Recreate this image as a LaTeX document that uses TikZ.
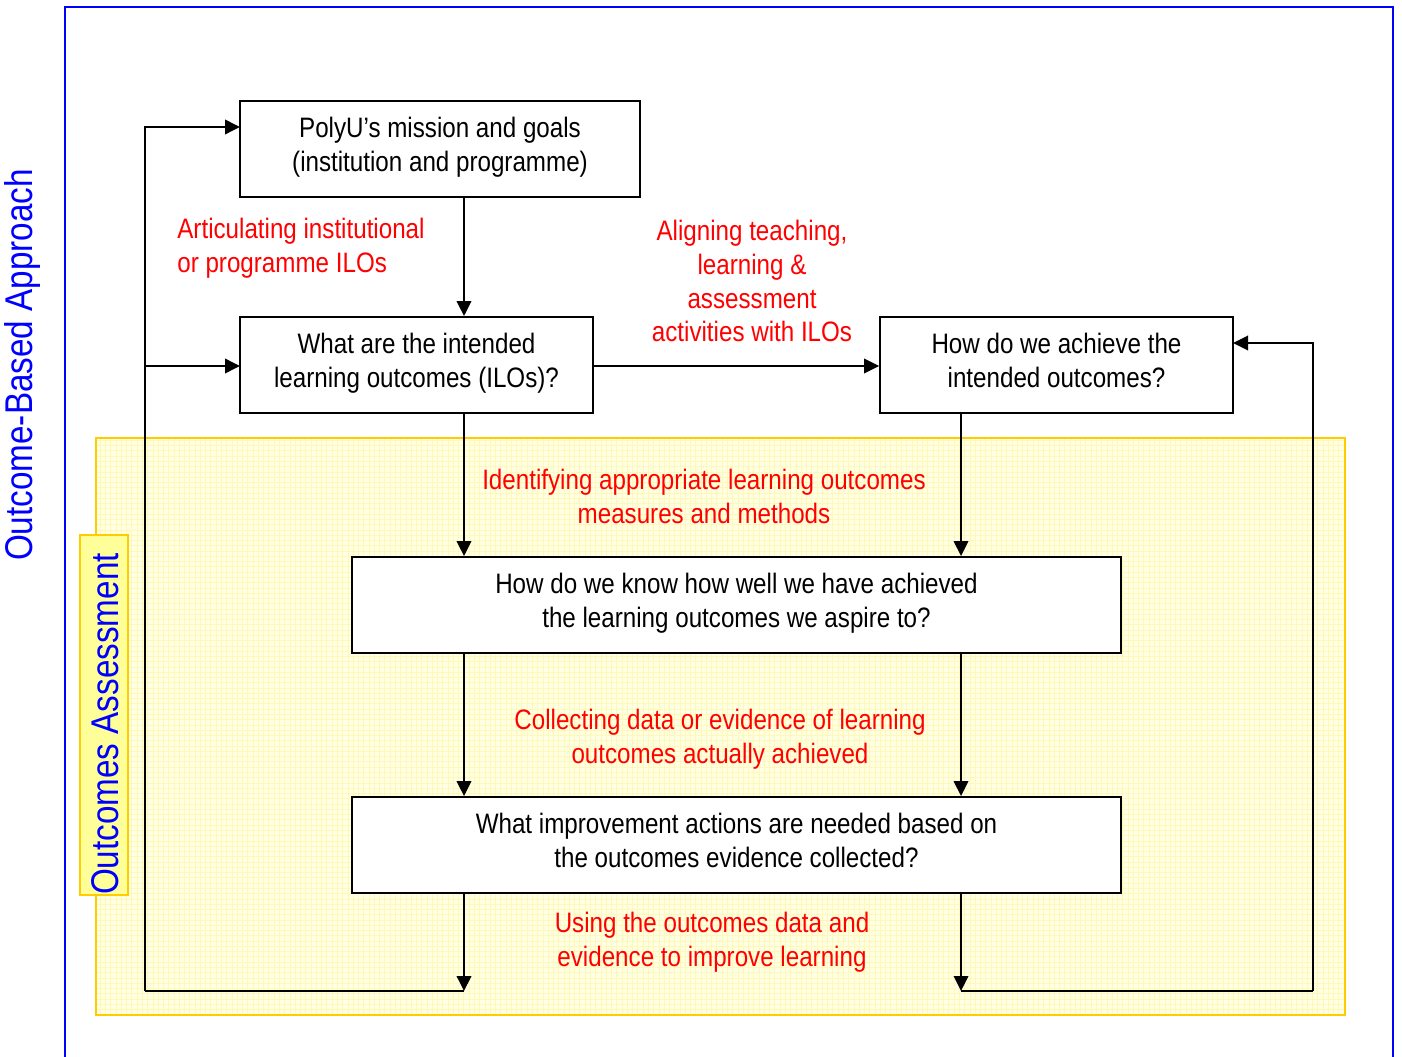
\documentclass[tikz,border=0pt]{standalone}
\usepackage{fontspec}
\setmainfont{Liberation Sans}[FakeStretch=0.86]
\usetikzlibrary{arrows.meta}
\usetikzlibrary{patterns}
\definecolor{frameblue}{RGB}{0,0,255}
\definecolor{gold}{RGB}{255,204,0}
\definecolor{paleyellow}{RGB}{255,255,228}
\definecolor{gridyellow}{RGB}{255,248,185}
\definecolor{tabyellow}{RGB}{255,255,153}
\tikzset{
	stepbox/.style={draw, line width=1.1pt, fill=white, align=center, inner sep=0pt,
		font=\fontsize{16}{19.3}\selectfont,
		execute at begin node={\rule{0pt}{15.7pt}}, execute at end node=\strut},
	redtext/.style={text=red, inner sep=0pt, font=\fontsize{16}{19.3}\selectfont},
	bluetext/.style={text=frameblue, font=\fontsize{22}{26}\selectfont},
	flow/.style={line width=1.1pt, -{Triangle[length=0.3cm,width=0.29cm]}},
	wire/.style={line width=1.1pt},
}

\begin{document}
\begin{tikzpicture}[x=0.02cm, y=-0.02cm]
	\useasboundingbox (0,0) rectangle (1402,1057);

	%outer frame (open at bottom)
	\draw[frameblue, line width=1.1pt] (65,1057) |- (1393,7) -- (1393,1057);
	\node[bluetext, rotate=90] (approach) at (23,365) {Outcome-Based Approach};

	%assessment area
	\fill[paleyellow] (96,438) rectangle (1345,1015);
	\fill[pattern=grid, pattern color=gridyellow] (96,438) rectangle (1345,1015);
	\draw[gold, line width=1.6pt] (96,438) rectangle (1345,1015);
	\node[draw=gold, line width=1.6pt, fill=tabyellow, minimum width=0.96cm,
		minimum height=7.2cm, inner sep=0pt] (assess) at (104,715) {};
	\node[bluetext, rotate=90] (assess text) at (105,724) {Outcomes Assessment};

	%boxes
	\node[stepbox, minimum width=8cm, minimum height=1.92cm] (mission) at (440,149)
		{PolyU’s mission and goals\\(institution and programme)};
	\node[stepbox, minimum width=7.06cm, minimum height=1.92cm] (ilo) at (416.5,365)
		{What are the intended\\learning outcomes (ILOs)?};
	\node[stepbox, minimum width=7.06cm, minimum height=1.92cm] (achieve) at (1056.5,365)
		{How do we achieve the\\intended outcomes?};
	\node[stepbox, minimum width=15.38cm, minimum height=1.92cm] (know) at (736.5,605)
		{How do we know how well we have achieved\\the learning outcomes we aspire to?};
	\node[stepbox, minimum width=15.38cm, minimum height=1.92cm] (improve) at (736.5,845)
		{What improvement actions are needed based on\\the outcomes evidence collected?};

	%red labels
	\node[redtext, anchor=west, align=left] (articulate) at (177,248)
		{Articulating institutional\\or programme ILOs};
	\node[redtext, align=center] (align) at (752,281)
		{Aligning teaching,\\learning \&\\assessment\\activities with ILOs};
	\node[redtext, align=center] (identify) at (704,496.5)
		{Identifying appropriate learning outcomes\\measures and methods};
	\node[redtext, align=center] (collect) at (720,739)
		{Collecting data or evidence of learning\\outcomes actually achieved};
	\node[redtext, align=center] (use) at (712,942)
		{Using the outcomes data and\\evidence to improve learning};

	%helper coordinates
	\coordinate (lx) at (464,0);
	\coordinate (rx) at (961,0);
	\coordinate (lend) at (464,991);
	\coordinate (rend) at (961,991);
	\coordinate (lloop) at (145,991);
	\coordinate (rloop) at (1313,991);
	\coordinate (mission in) at (240,127);
	\coordinate (ilo in) at (240,366);
	\coordinate (achieve in) at (1233,343);

	%main flow
	\draw[flow] (mission.south -| lx) -- (ilo.north -| lx);
	\draw[flow] (ilo.east |- ilo in) -- (achieve.west |- ilo in);
	\draw[flow] (ilo.south -| lx) -- (know.north -| lx);
	\draw[flow] (achieve.south -| rx) -- (know.north -| rx);
	\draw[flow] (know.south -| lx) -- (improve.north -| lx);
	\draw[flow] (know.south -| rx) -- (improve.north -| rx);
	\draw[flow] (improve.south -| lx) -- (lend);
	\draw[flow] (improve.south -| rx) -- (rend);

	%feedback loops
	\draw[wire] (lend) -- (lloop);
	\draw[flow] (lloop) |- (mission in);
	\draw[flow] (lloop |- ilo in) -- (ilo in);
	\draw[wire] (rend) -- (rloop);
	\draw[flow] (rloop) |- (achieve in);
\end{tikzpicture}
\end{document}
